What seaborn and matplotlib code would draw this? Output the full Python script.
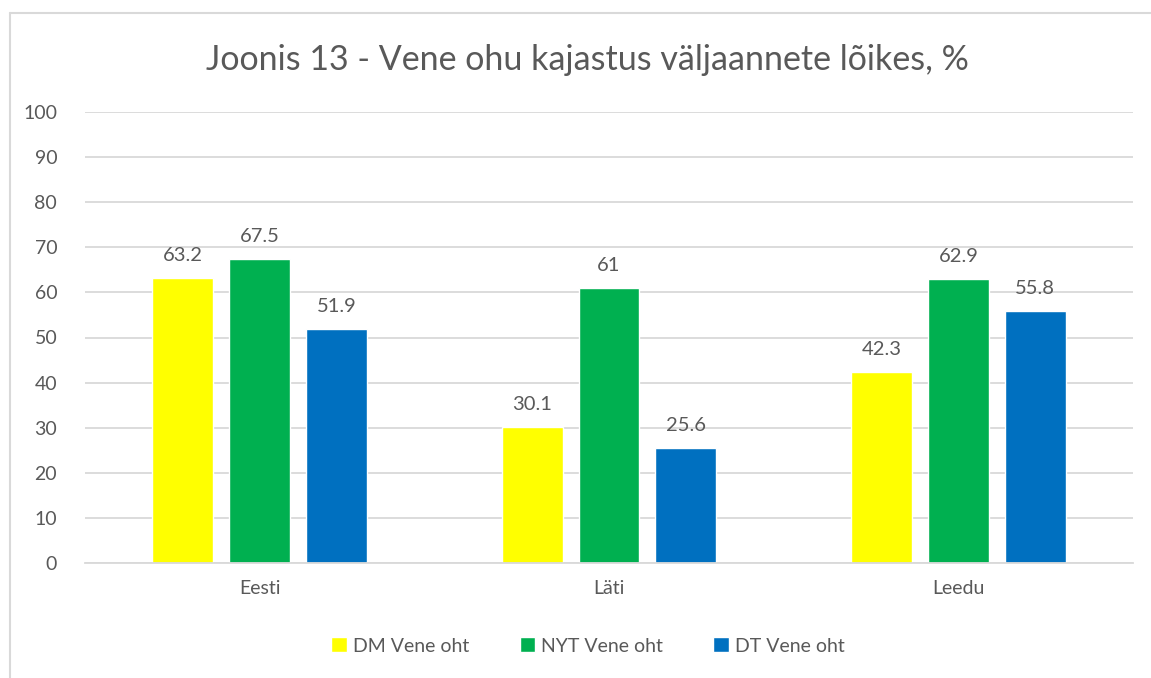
import matplotlib
matplotlib.use("Agg")
import matplotlib.pyplot as plt
import seaborn as sns
import pandas as pd
from matplotlib.lines import Line2D

categories = ["Eesti", "Läti", "Leedu"]
series_names = ["DM Vene oht", "NYT Vene oht", "DT Vene oht"]
dm_values = [63.2, 30.1, 42.3]
nyt_values = [67.5, 61, 62.9]
dt_values = [51.9, 25.6, 55.8]
value_labels = [["63.2", "30.1", "42.3"], ["67.5", "61", "62.9"], ["51.9", "25.6", "55.8"]]
yticks = [0, 10, 20, 30, 40, 50, 60, 70, 80, 90, 100]
title = "Joonis 13 - Vene ohu kajastus väljaannete lõikes, %"
colors = ["#FFFF00", "#00B050", "#0070C0"]

rows = []
for name, vals in zip(series_names, [dm_values, nyt_values, dt_values]):
    for c, v in zip(categories, vals):
        rows.append({"cat": c, "series": name, "value": v})
df = pd.DataFrame(rows)

sns.set_theme(style="white")
plt.rcParams["font.family"] = ["Lato", "DejaVu Sans"]
txt = "#595959"

fig = plt.figure(figsize=(11.51, 6.78), dpi=100)
ax = fig.add_axes([85/1151, 1-563/678, (1133-85)/1151, (563-112)/678])

sns.barplot(data=df, x="cat", y="value", hue="series", order=categories,
            hue_order=series_names, palette=colors, width=0.66, gap=0.21,
            ax=ax, legend=False, saturation=1)

ax.set_ylim(0, 100)
ax.set_xlim(-0.5, 2.5)
ax.set_yticks(yticks)
ax.set_yticklabels([str(t) for t in yticks])
ax.yaxis.grid(True, color="#D9D9D9", linewidth=1.3)
ax.set_axisbelow(True)
for s in ["top", "right", "left"]:
    ax.spines[s].set_visible(False)
ax.spines["bottom"].set_color("#D9D9D9")
ax.spines["bottom"].set_linewidth(1.3)
ax.tick_params(axis="both", length=0, labelsize=14, labelcolor=txt)
ax.tick_params(axis="y", pad=20)
ax.tick_params(axis="x", pad=12)
ax.set_xlabel("")
ax.set_ylabel("")

for cont, labs in zip(ax.containers, value_labels):
    ax.bar_label(cont, labels=labs, padding=10, fontsize=14.5, color=txt)

fig.text(587/1151, 1-60/678, title, ha="center", va="center", fontsize=24.5, color=txt)

handles = [plt.Rectangle((0, 0), 1, 1, facecolor=c) for c in colors]
fig.legend(handles, series_names, loc="center", bbox_to_anchor=(588/1151, 1-646/678),
           ncol=3, frameon=False, fontsize=14, labelcolor=txt,
           handlelength=0.8, handleheight=0.8, handletextpad=0.3, columnspacing=2.6)

# chart border (top and left visible)
fig.add_artist(Line2D([10/1151, 1], [1-13/678, 1-13/678], color="#D9D9D9", linewidth=1.5, transform=fig.transFigure))
fig.add_artist(Line2D([10/1151, 10/1151], [0, 1-13/678], color="#D9D9D9", linewidth=1.5, transform=fig.transFigure))

fig.savefig("out.png", dpi=100, facecolor="white")
